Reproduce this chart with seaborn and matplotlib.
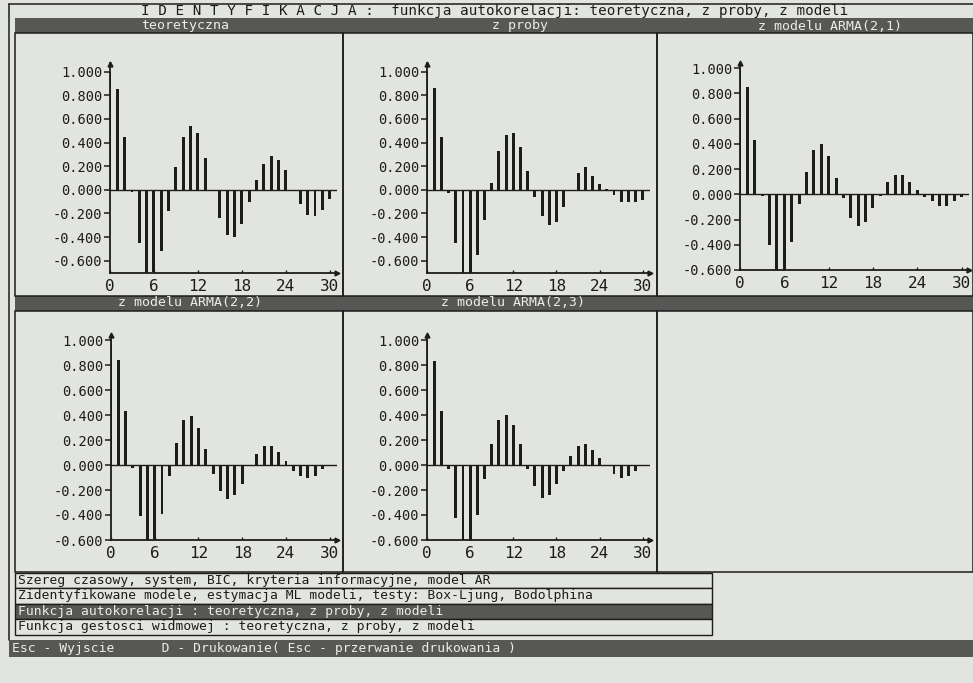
import matplotlib
matplotlib.use("Agg")
import matplotlib.pyplot as plt
from matplotlib.patches import Rectangle
from matplotlib.lines import Line2D
import seaborn as sns

# ---- data: autocorrelation functions, lags 0..30 ----
lags = list(range(31))

acf_teoretyczna = [1.00, 0.85, 0.45, -0.02, -0.45, -0.71, -0.70, -0.52, -0.18, 0.19,
                   0.45, 0.54, 0.48, 0.27, 0.00, -0.24, -0.38, -0.40, -0.29, -0.10,
                   0.08, 0.22, 0.29, 0.25, 0.165, 0.00, -0.12, -0.21, -0.22, -0.17, -0.08]
acf_z_proby = [1.00, 0.86, 0.45, -0.03, -0.45, -0.71, -0.71, -0.55, -0.26, 0.055,
               0.33, 0.46, 0.48, 0.36, 0.16, -0.06, -0.22, -0.30, -0.27, -0.15,
               0.00, 0.14, 0.19, 0.12, 0.05, 0.01, -0.045, -0.10, -0.10, -0.10, -0.09]
acf_arma21 = [1.00, 0.85, 0.43, -0.01, -0.40, -0.60, -0.60, -0.38, -0.08, 0.18,
              0.35, 0.40, 0.30, 0.13, -0.03, -0.19, -0.25, -0.22, -0.11, -0.01,
              0.10, 0.15, 0.15, 0.10, 0.035, -0.02, -0.05, -0.09, -0.09, -0.05, -0.02]
acf_arma22 = [1.00, 0.84, 0.435, -0.02, -0.405, -0.62, -0.59, -0.39, -0.09, 0.18,
              0.36, 0.39, 0.30, 0.13, -0.07, -0.205, -0.27, -0.24, -0.15, 0.00,
              0.09, 0.155, 0.155, 0.105, 0.035, -0.05, -0.085, -0.10, -0.085, -0.03, 0.00]
acf_arma23 = [1.00, 0.835, 0.435, -0.03, -0.42, -0.62, -0.62, -0.40, -0.11, 0.17,
              0.36, 0.40, 0.32, 0.17, -0.03, -0.17, -0.26, -0.24, -0.15, -0.045,
              0.07, 0.155, 0.17, 0.12, 0.06, -0.01, -0.07, -0.10, -0.085, -0.045, 0.00]

panel_titles = ["teoretyczna", "z proby", "z modelu ARMA(2,1)",
                "z modelu ARMA(2,2)", "z modelu ARMA(2,3)"]
y_ticks = [-0.6, -0.4, -0.2, 0.0, 0.2, 0.4, 0.6, 0.8, 1.0]
x_ticks = [0, 6, 12, 18, 24, 30]

screen_title = "I D E N T Y F I K A C J A :  funkcja autokorelacji: teoretyczna, z proby, z modeli"
menu_items = [
    "Szereg czasowy, system, BIC, kryteria informacyjne, model AR",
    "Zidentyfikowane modele, estymacja ML modeli, testy: Box-Ljung, Bodolphina",
    "Funkcja autokorelacji : teoretyczna, z proby, z modeli",
    "Funkcja gestosci widmowej : teoretyczna, z proby, z modeli",
]
status_text = "Esc - Wyjscie      D - Drukowanie( Esc - przerwanie drukowania )"

# ---- styling ----
BG = "#e2e4df"
DARK = "#575856"
INK = "#1c1c1c"
LIGHT = "#ececea"
MONO = "DejaVu Sans Mono"

sns.set_style("white", {"axes.facecolor": "none", "figure.facecolor": BG})
plt.rcParams["font.family"] = [MONO, "DejaVu Sans"]
plt.rcParams["axes.unicode_minus"] = False

W, H = 973, 683
fig = plt.figure(figsize=(W / 100, H / 100), dpi=100, facecolor=BG)


def frac(x0, y0, x1, y1):
    return [x0 / W, 1 - y1 / H, (x1 - x0) / W, (y1 - y0) / H]


def box(x0, y0, x1, y1, face="none", edge=INK, lw=1.1, z=0):
    l, b, w, h = frac(x0, y0, x1, y1)
    fig.add_artist(Rectangle((l, b), w, h, transform=fig.transFigure,
                             facecolor=face, edgecolor=edge, linewidth=lw, zorder=z))


def ftext(x, y, s, color=INK, size=10, ha="left"):
    fig.text(x / W, 1 - y / H, s, color=color, fontsize=size, ha=ha, va="center",
             family=[MONO, "DejaVu Sans"])


# ---- screen frame ----
fig.add_artist(Line2D([9 / W, 9 / W], [1 - 4 / H, 1 - 640 / H], transform=fig.transFigure,
                      color=INK, lw=1.1))
fig.add_artist(Line2D([9 / W, 1.0], [1 - 4 / H, 1 - 4 / H], transform=fig.transFigure,
                      color=INK, lw=1.1))
ftext(495, 11, screen_title, size=10.3, ha="center")

# header bars and cells
box(15, 18, 973, 33, face=DARK, edge=DARK, lw=0)
box(15, 296, 973, 311, face=DARK, edge=DARK, lw=0)
for (x0, x1) in [(15, 343), (343, 657), (657, 973)]:
    box(x0, 33, x1, 296)
    box(x0, 311, x1, 572)

header_pos = [(185, 26), (520, 26), (830, 26), (190, 303), (513, 303)]
for (hx, hy), t in zip(header_pos, panel_titles):
    ftext(hx, hy, t, color=LIGHT, size=9.5, ha="center")

# ---- the five autocorrelation panels ----
panels = [
    (acf_teoretyczna, (110, 63.5, 337, 273), (-0.705, 1.07)),
    (acf_z_proby, (427, 63.5, 650, 273), (-0.705, 1.07)),
    (acf_arma21, (740, 63, 969, 270), (-0.60, 1.04)),
    (acf_arma22, (111, 335, 337, 540), (-0.60, 1.04)),
    (acf_arma23, (427, 335, 650, 540), (-0.60, 1.04)),
]

for vals, (x0, y0, x1, y1), ylim in panels:
    ax = fig.add_axes(frac(x0, y0, x1, y1))
    ax.axhline(0, color=INK, lw=1.0, zorder=1)
    sns.barplot(x=lags, y=vals, native_scale=True, width=0.4, color=INK,
                saturation=1, errorbar=None, linewidth=0, ax=ax, zorder=2)
    ax.set_xlim(0, 31)
    ax.set_ylim(*ylim)
    ax.set_xlabel("")
    ax.set_ylabel("")
    ax.set_yticks(y_ticks)
    ax.set_yticklabels([f"{v:.3f}" for v in y_ticks])
    ax.set_xticks(x_ticks)
    ax.set_xticklabels([str(v) for v in x_ticks])
    ax.tick_params(axis="y", direction="out", length=4, width=1.1, color=INK,
                   labelsize=9.8, labelcolor=INK, pad=1.5, left=True)
    ax.tick_params(axis="x", direction="in", length=2.5, width=1.0, color=INK,
                   labelsize=11.5, labelcolor=INK, pad=4, bottom=True)
    for side in ("top", "right"):
        ax.spines[side].set_visible(False)
    for side in ("left", "bottom"):
        ax.spines[side].set_color(INK)
        ax.spines[side].set_linewidth(1.3)
    ax.plot([0], [1], marker="^", ms=3.5, color=INK, transform=ax.transAxes, clip_on=False)
    ax.plot([1], [0], marker=">", ms=3.5, color=INK, transform=ax.transAxes, clip_on=False)

# ---- menu ----
row_edges = [572.5, 588, 603.5, 619, 634.5]
for i, item in enumerate(menu_items):
    top, bot = row_edges[i], row_edges[i + 1]
    highlighted = (i == 2)
    box(15, top, 712, bot, face=DARK if highlighted else BG, edge=INK, lw=1.0, z=1)
    fig.text(18 / W, 1 - (top + bot) / 2 / H, item, fontsize=9.4,
             color=LIGHT if highlighted else INK, ha="left", va="center",
             family=[MONO, "DejaVu Sans"], zorder=2)

# ---- status bar ----
box(9, 640, 973, 657, face=DARK, edge=DARK, lw=0)
ftext(12, 648.5, status_text, color=LIGHT, size=9.4)

fig.savefig("out.png", dpi=100, facecolor=BG)
